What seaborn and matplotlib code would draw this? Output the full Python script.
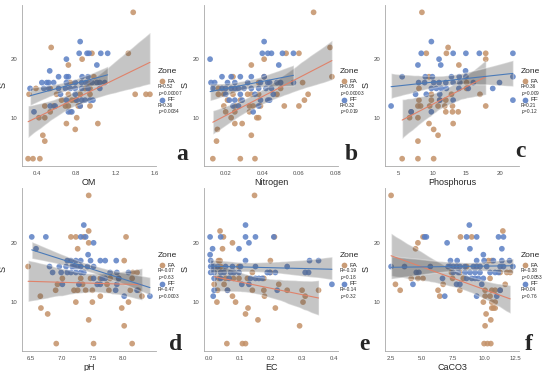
import numpy as np
import pandas as pd
import matplotlib
matplotlib.use("Agg")
import matplotlib.pyplot as plt
import seaborn as sns

# Species richness S per site, grouped by S level -> soil variable values
om_fa = {28: [1.38], 22: [0.545], 21: [1.33, 0.96], 20: [0.86], 19: [0.72], 17: [0.98],
         16: [0.74, 0.92], 15: [0.39, 0.535, 0.89, 0.94],
         14: [0.32, 0.60, 0.72, 0.84, 0.94, 1.40, 1.51, 1.55], 13: [0.65, 0.755, 0.79],
         12: [0.48, 0.57, 0.69, 0.72, 0.82, 0.84, 0.94], 11: [0.535, 0.74],
         10: [0.42, 0.48, 0.805], 9: [0.70, 1.02], 8: [0.79], 7: [0.46], 6: [0.48],
         3: [0.31, 0.36, 0.43]}
om_ff = {23: [0.84], 21: [0.83, 0.91, 0.93, 1.05, 1.12], 20: [0.70], 19: [1.01], 18: [0.53],
         17: [0.62, 0.70, 0.72, 0.86, 0.92],
         16: [0.45, 0.50, 0.52, 0.57, 0.70, 0.79, 0.855, 0.90, 0.96, 1.01, 1.04, 1.09],
         15: [0.33, 0.47, 0.52, 0.62, 0.69, 0.74, 0.79, 0.855, 0.92, 1.04], 14: [0.64, 0.79],
         13: [0.70, 0.805, 0.855, 0.89, 0.94, 0.97], 12: [0.535, 0.585, 0.84],
         11: [0.37, 0.72, 0.755]}

n_fa = {28: [0.068], 22: [0.077], 21: [0.060, 0.053], 20: [0.041], 19: [0.034],
        17: [0.024, 0.041, 0.078], 16: [0.038, 0.062], 15: [0.016, 0.050],
        14: [0.016, 0.019, 0.024, 0.032, 0.034, 0.038, 0.048, 0.065], 13: [0.021, 0.028, 0.063],
        12: [0.019, 0.025, 0.033, 0.035, 0.039, 0.052, 0.060], 11: [0.020, 0.025, 0.033],
        10: [0.023, 0.037, 0.038], 9: [0.025, 0.029], 8: [0.0155], 7: [0.034], 6: [0.015],
        3: [0.013, 0.028, 0.036]}
n_ff = {23: [0.041], 21: [0.040, 0.043, 0.045, 0.051, 0.057], 20: [0.0115], 19: [0.049],
        17: [0.018, 0.023, 0.028, 0.034, 0.041],
        16: [0.012, 0.014, 0.021, 0.025, 0.032, 0.039, 0.043, 0.044, 0.048, 0.050, 0.057],
        15: [0.013, 0.018, 0.020, 0.023, 0.025, 0.027, 0.030, 0.034, 0.038, 0.042, 0.045],
        14: [0.020, 0.028, 0.036, 0.046], 13: [0.022, 0.025, 0.029, 0.039, 0.043, 0.044],
        12: [0.024, 0.027, 0.038], 11: [0.035]}

p_fa = {28: [8.43], 22: [12.31], 21: [9.08, 12.06, 17.89], 20: [17.89], 19: [13.91], 17: [9.48],
        16: [15.05], 15: [7.99, 15.05], 14: [9.83, 12.81, 17.04], 13: [7.99, 9.83, 11.07, 11.97],
        12: [7.84, 8.23, 9.58, 10.82, 11.82, 12.96, 17.89], 11: [6.84, 11.97, 12.96, 13.81],
        10: [6.6, 7.84], 9: [9.48, 13.06], 8: [10.17], 7: [10.82], 6: [7.84],
        3: [5.5, 7.84, 10.17]}
p_ff = {23: [9.83], 21: [8.33, 13.06, 14.95, 16.94, 21.92], 20: [10.97], 19: [7.84, 11.22],
        18: [14.9], 17: [5.5, 8.93, 9.98, 12.81, 13.96, 14.95, 21.92],
        16: [7.94, 8.83, 10.17, 10.97, 11.97, 13.06, 14.05, 16.05, 19.93],
        15: [9.83, 10.57, 11.32, 12.06, 13.91, 15.3, 18.93], 14: [7.49, 9.08, 11.07],
        13: [11.07, 13.06, 21.92], 12: [3.86], 11: [6.84, 9.83]}

ph_fa = {28: [7.44], 22: [7.44], 21: [7.15, 7.23, 7.36, 8.05], 20: [7.44], 19: [7.26], 17: [8.02],
         16: [6.45], 15: [8.16, 8.23], 14: [7.01, 7.31, 7.47, 7.63, 7.79, 7.93, 8.15],
         13: [6.93, 7.34, 7.74], 12: [6.90, 7.20, 7.26, 7.39, 7.50, 7.77, 8.12, 8.25],
         11: [6.65, 7.63, 8.31], 10: [7.23, 7.50, 8.09], 9: [6.66, 7.98], 8: [6.77], 7: [7.44],
         6: [8.02], 3: [6.91, 7.52, 8.15]}
ph_ff = {23: [7.36], 21: [6.51, 6.74, 7.31, 7.39], 20: [7.52], 19: [6.58], 18: [7.43],
         17: [7.09, 7.15, 7.23, 7.31, 7.47, 7.63, 7.71, 7.89],
         16: [6.80, 6.96, 7.07, 7.17, 7.20, 7.26, 7.31, 7.42, 7.52],
         15: [6.85, 6.99, 7.09, 7.15, 7.23, 7.31, 7.36, 7.79, 7.90, 8.09],
         14: [7.52, 7.66, 7.71, 7.93], 13: [7.01, 7.28, 7.58, 7.63, 7.90], 12: [7.88, 8.23],
         11: [8.02, 8.44]}

ec_fa = {28: [0.146], 22: [0.035], 21: [0.046, 0.210], 20: [0.075], 19: [0.043],
         17: [0.030, 0.035, 0.197], 16: [0.037, 0.096], 15: [0.139, 0.197],
         14: [0.032, 0.053, 0.078, 0.096, 0.123, 0.176], 13: [0.016, 0.048, 0.224],
         12: [0.027, 0.059, 0.139, 0.176, 0.251, 0.299, 0.352], 11: [0.075, 0.178, 0.309],
         10: [0.025, 0.085, 0.302], 9: [0.125, 0.213], 8: [0.117], 7: [0.157], 6: [0.291],
         3: [0.057, 0.107, 0.117]}
ec_ff = {23: [0.117], 21: [0.003, 0.037, 0.117, 0.149, 0.208], 20: [0.128], 19: [0.011, 0.096],
         18: [0.003], 17: [0.005, 0.117, 0.323, 0.352],
         16: [0.005, 0.011, 0.016, 0.027, 0.053, 0.075, 0.101, 0.149, 0.251],
         15: [0.005, 0.016, 0.037, 0.048, 0.069, 0.080, 0.096, 0.187, 0.195, 0.213, 0.309, 0.320],
         14: [0.016, 0.037, 0.064, 0.133, 0.149, 0.160, 0.171], 13: [0.105, 0.128, 0.395],
         12: [0.016, 0.059, 0.219], 11: [0.013]}

ca_fa = {28: [2.5], 22: [11.5], 21: [5.07, 8.09, 8.99], 20: [4.66], 19: [4.47], 17: [10.34, 10.61],
         16: [8.58], 15: [7.36, 8.04, 11.28, 11.82, 12.09], 14: [4.12, 4.66, 5.07, 7.45, 8.31, 10.47],
         13: [2.85, 6.69, 11.69], 12: [3.23, 6.28, 8.04, 10.07, 10.61, 10.88, 11.28],
         11: [6.42, 10.07, 10.47], 10: [9.93, 10.61, 10.88], 9: [10.61, 10.74, 10.88],
         8: [10.15], 7: [10.53], 6: [10.07], 3: [9.99, 10.26, 10.53]}
ca_ff = {23: [8.8], 21: [5.2, 5.34, 8.58, 9.39, 11.15, 11.55], 20: [7.01], 19: [8.85, 11.42],
         18: [9.93], 17: [7.28, 7.82, 9.39, 9.99, 10.74, 11.42, 12.04],
         16: [2.5, 3.58, 5.66, 7.09, 7.23, 7.5, 7.77, 8.04, 8.45, 9.12, 9.39, 9.66, 10.2, 11.28,
              11.55, 12.31],
         15: [4.53, 4.74, 7.5, 7.91, 8.45, 8.85, 9.26, 9.66, 10.47, 10.88, 11.15],
         14: [6.64, 8.58, 8.99, 9.26, 9.53, 9.93], 13: [4.26, 7.77, 8.04, 9.8], 12: [11.28],
         11: [6.82, 9.39, 11.01]}

x_labels = ["OM", "Nitrogen", "Phosphorus", "pH", "EC", "CaCO3"]
x_ticks = [[0.4, 0.8, 1.2, 1.6], [0.02, 0.04, 0.06, 0.08], [5, 10, 15, 20],
           [6.5, 7.0, 7.5, 8.0], [0.0, 0.1, 0.2, 0.3, 0.4], [2.5, 5.0, 7.5, 10.0, 12.5]]
x_ticklabels = [["0.4", "0.8", "1.2", "1.6"], ["0.02", "0.04", "0.06", "0.08"],
                ["5", "10", "15", "20"], ["6.5", "7.0", "7.5", "8.0"],
                ["0.0", "0.1", "0.2", "0.3", "0.4"], ["2.5", "5.0", "7.5", "10.0", "12.5"]]
r_fa = ["0.52", "0.05", "0.36", "-0.07", "-0.19", "-0.38"]
p_fa_txt = ["0.00007", "0.00003", "0.009", "0.63", "0.18", "0.0053"]
r_ff = ["0.36", "0.32", "0.21", "-0.47", "-0.14", "0.04"]
p_ff_txt = ["0.0084", "0.019", "0.12", "0.0003", "0.32", "0.76"]
letters = ["a", "b", "c", "d", "e", "f"]

point_colors = {"FA": "#c39168", "FF": "#5b7fc4"}
line_colors = {"FA": "#e0826a", "FF": "#4a7ab8"}


def make_frame(fa, ff):
    rows = []
    for zone, d in [("FA", fa), ("FF", ff)]:
        for s, xs in d.items():
            for x in xs:
                rows.append((x, s, zone))
    return pd.DataFrame(rows, columns=["x", "S", "Zone"])


sns.set_style("white")
plt.rcParams["font.family"] = ["Liberation Sans", "DejaVu Sans"]
plt.rcParams["mathtext.fontset"] = "custom"
plt.rcParams["mathtext.it"] = "Liberation Sans:italic"
plt.rcParams["mathtext.rm"] = "Liberation Sans"

W, H = 550, 371
fig = plt.figure(figsize=(5.5, 3.71), dpi=100)
col_left = [22, 204, 385]
rows_px = [(5, 166), (188, 351)]
aw = 134

panels = [(om_fa, om_ff), (n_fa, n_ff), (p_fa, p_ff), (ph_fa, ph_ff), (ec_fa, ec_ff), (ca_fa, ca_ff)]
letter_pos = [(182, 160), (351, 160), (520, 157), (176, 350), (364, 350), (529, 350)]

for i, (fa, ff) in enumerate(panels):
    top, bot = rows_px[i // 3]
    left = col_left[i % 3]
    ax = fig.add_axes([left / W, 1 - bot / H, aw / W, (bot - top) / H])
    df = make_frame(fa, ff)

    sns.scatterplot(data=df, x="x", y="S", hue="Zone", palette=point_colors, s=17,
                    alpha=0.85, linewidth=0, legend=False, ax=ax)
    for zone in ["FA", "FF"]:
        sub = df[df["Zone"] == zone]
        sns.regplot(data=sub, x="x", y="S", scatter=False, ci=95, seed=1, color="0.3",
                    line_kws={"alpha": 0}, ax=ax)
        ax.collections[-1].set_alpha(0.32)
        sns.regplot(data=sub, x="x", y="S", scatter=False, ci=None, color=line_colors[zone],
                    line_kws={"lw": 0.8}, ax=ax)

    lo, hi = df["x"].min(), df["x"].max()
    pad = 0.05 * (hi - lo)
    ax.set_xlim(lo - pad, hi + pad)
    smin, smax = df["S"].min(), df["S"].max()
    spad = 0.05 * (smax - smin)
    ax.set_ylim(smin - spad, smax + spad)
    ax.set_xticks(x_ticks[i])
    ax.set_xticklabels(x_ticklabels[i])
    ax.set_yticks([10, 20])
    ax.set_yticklabels(["10", "20"])
    ax.set_xlabel(x_labels[i], fontsize=6.5, labelpad=1.5)
    ax.set_ylabel("S", fontsize=6.5, labelpad=2)
    ax.tick_params(axis="both", labelsize=4.3, colors="#4d4d4d", length=2, width=0.5, pad=1.5)
    for side in ["top", "right"]:
        ax.spines[side].set_visible(False)
    for side in ["left", "bottom"]:
        ax.spines[side].set_color("#a8a8a8")
        ax.spines[side].set_linewidth(0.6)

    # legend, drawn by hand in axes coordinates (keys + stats lines)
    tr = ax.transAxes
    ax.text(1.012, 0.588, "Zone", transform=tr, fontsize=6, va="center")
    for zone, ky, r, p in [("FA", 0.527, r_fa[i], p_fa_txt[i]), ("FF", 0.412, r_ff[i], p_ff_txt[i])]:
        ax.scatter([1.045], [ky], transform=tr, s=17, color=point_colors[zone], alpha=0.9,
                   linewidth=0, clip_on=False)
        ax.text(1.085, ky, zone, transform=tr, fontsize=4.6, va="center")
        ax.text(1.012, ky - 0.036, f"R={r}", transform=tr, fontsize=3.4, va="center")
        ax.text(1.012, ky - 0.075, f"$\\it{{p}}$={p}", transform=tr, fontsize=3.4, va="center")

    lx, ly = letter_pos[i]
    fig.text(lx / W, 1 - ly / H, letters[i], fontsize=17, fontweight="bold",
             family="Liberation Serif", ha="center", va="baseline")

fig.savefig("out.png", dpi=100, facecolor="white")
